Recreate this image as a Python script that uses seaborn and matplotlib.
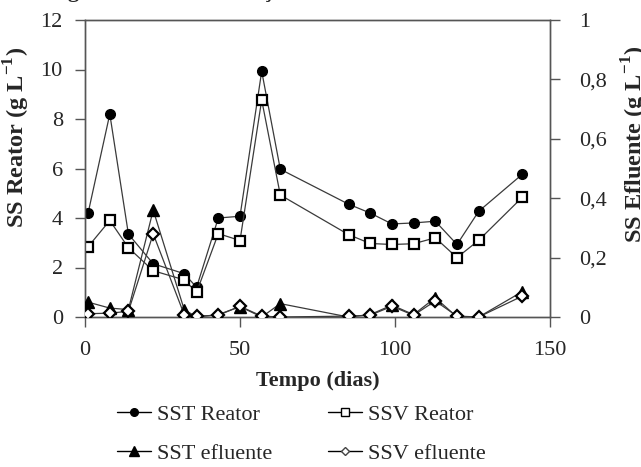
import matplotlib
matplotlib.use("Agg")
import matplotlib.pyplot as plt
from matplotlib.lines import Line2D
from matplotlib.ticker import FixedLocator, FuncFormatter
import seaborn as sns

# Sampling days
dias = [1, 8, 14, 22, 32, 36, 43, 50, 57, 63, 85, 92, 99, 106, 113, 120, 127, 141]

# Reactor suspended solids (g/L)
sst_reator = [4.2, 8.2, 3.35, 2.15, 1.75, 1.2, 4.0, 4.07, 9.93, 5.97, 4.56, 4.2,
              3.76, 3.8, 3.87, 2.93, 4.27, 5.76]
ssv_reator = [2.84, 3.9, 2.8, 1.87, 1.5, 1.0, 3.37, 3.09, 8.77, 4.93, 3.33, 2.97,
              2.93, 2.96, 3.2, 2.4, 3.1, 4.83]

# Effluent suspended solids (g/L)
sst_efluente = [0.05, 0.03, 0.025, 0.36, 0.025, 0.0, 0.008, 0.035, 0.0, 0.045,
                0.0, 0.008, 0.04, 0.008, 0.065, 0.0, 0.0, 0.085]
ssv_efluente = [0.011, 0.013, 0.019, 0.28, 0.008, 0.003, 0.006, 0.036, 0.003,
                0.0, 0.003, 0.006, 0.036, 0.006, 0.054, 0.003, 0.0, 0.07]

x_ticks = [0, 50, 100, 150]
y_left_ticks = [0, 2, 4, 6, 8, 10, 12]
y_right_ticks = [0, 0.2, 0.4, 0.6, 0.8, 1.0]

sns.set_theme(style="white")
plt.rcParams["font.family"] = ["Liberation Serif", "DejaVu Serif"]
plt.rcParams["mathtext.fontset"] = "custom"
plt.rcParams["mathtext.rm"] = "Liberation Serif"
plt.rcParams["mathtext.bf"] = "Liberation Serif:bold"

FS = 16
FS_Y = 17.5
LINE_C = "#3a3a3a"

fig = plt.figure(figsize=(6.41, 4.67), dpi=100)
ax = fig.add_axes([85 / 641, 1 - 317 / 467, 465 / 641, 297 / 467])
ax2 = ax.twinx()

common = dict(color=LINE_C, linewidth=0.9, markeredgecolor="black", sort=False)

sns.lineplot(x=dias, y=sst_reator, ax=ax, marker="o", markersize=7,
             markerfacecolor="black", markeredgewidth=1.0, zorder=3, **common)
sns.lineplot(x=dias, y=ssv_reator, ax=ax, marker="s", markersize=7.5,
             markerfacecolor="white", markeredgewidth=1.6, zorder=4, **common)
sns.lineplot(x=dias, y=sst_efluente, ax=ax2, marker="^", markersize=8,
             markerfacecolor="black", markeredgewidth=1.0, zorder=3, **common)
sns.lineplot(x=dias, y=ssv_efluente, ax=ax2, marker="D", markersize=6.5,
             markerfacecolor="white", markeredgewidth=1.6, zorder=4, **common)

ax.set_xlim(0, 150)
ax.set_ylim(0, 12)
ax2.set_ylim(0, 1)

ax.xaxis.set_major_locator(FixedLocator(x_ticks))
ax.yaxis.set_major_locator(FixedLocator(y_left_ticks))
ax2.yaxis.set_major_locator(FixedLocator(y_right_ticks))
ax2.yaxis.set_major_formatter(
    FuncFormatter(lambda v, p: "0" if v == 0 else ("1" if v == 1 else f"{v:.1f}".replace(".", ","))))

for a in (ax, ax2):
    for s in a.spines.values():
        s.set_color("#555555")
        s.set_linewidth(1.0)
    a.grid(False)

ax.tick_params(axis="x", direction="out", length=7, width=1, color="#555555",
               labelsize=FS, pad=10, bottom=True)
ax.tick_params(axis="y", direction="out", length=7, width=1, color="#555555",
               labelsize=FS, pad=9, left=True)
ax2.tick_params(axis="y", direction="out", length=7, width=1, color="#555555",
                labelsize=FS, pad=14, right=True)

ax.set_xlabel("Tempo (dias)", fontsize=FS, fontweight="bold", labelpad=8)
ax.set_ylabel(r"SS Reator (g L$^{\mathbf{-1}}$)", fontsize=FS_Y, fontweight="bold")
ax2.set_ylabel(r"SS Efluente (g L$^{\mathbf{-1}}$)", fontsize=FS_Y, fontweight="bold",
               rotation=90)
ax.yaxis.set_label_coords(-0.114, 0.603)
ax2.yaxis.set_label_coords(1.15, 0.58)

# Caption running off the top edge
fig.text(48 / 641, 1 + 3 / 467, "Figura 12 – Concentração de sólidos",
         fontsize=FS, fontweight="bold", va="baseline", ha="left")

handles = [
    Line2D([], [], color="black", lw=1, marker="o", ms=5.5, mfc="black", mec="black"),
    Line2D([], [], color="black", lw=1, marker="s", ms=6, mfc="white", mec="black"),
    Line2D([], [], color="black", lw=1, marker="^", ms=6.5, mfc="black", mec="black"),
    Line2D([], [], color="black", lw=1, marker="D", ms=4.5, mfc="white", mec="#444444"),
]
labels = ["SST Reator", "SSV Reator", "SST efluente", "SSV efluente"]
# Order so the first row holds the reactor series
fig.legend([handles[0], handles[2], handles[1], handles[3]],
           [labels[0], labels[2], labels[1], labels[3]],
           ncol=2, loc="upper left", bbox_to_anchor=(117 / 641, 1 - 404 / 467),
           frameon=False, fontsize=FS, handlelength=1.55, handletextpad=0.25,
           columnspacing=2.5, labelspacing=0.85, borderaxespad=0, borderpad=0)

fig.savefig("out.png", dpi=100)
